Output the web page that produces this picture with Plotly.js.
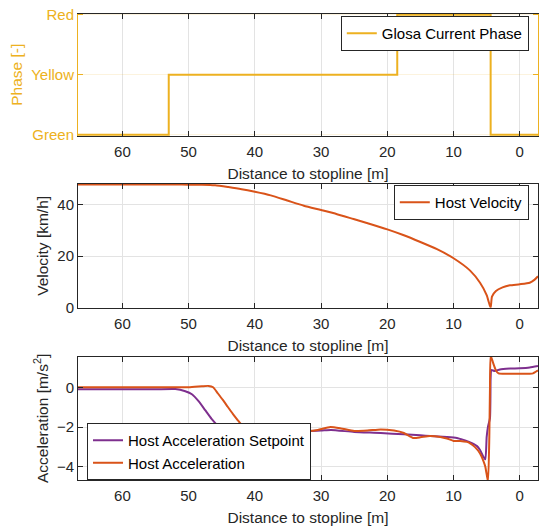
<!DOCTYPE html>
<html>
<head>
<meta charset="utf-8">
<script src="https://cdn.plot.ly/plotly-3.0.1.min.js"></script>
<style>html,body{margin:0;padding:0;background:#fff;}#chart{width:539px;height:532px;}</style>
</head>
<body>
<div id="chart"></div>
<script>
// ---- Data ----
const distTicks = [60, 50, 40, 30, 20, 10, 0];

const phaseDist = [66.7, 53.0, 18.5, 4.4, -2.75];
const phaseVal  = [0, 1, 2, 0, 0];
const phaseTickVals = [0, 1, 2];
const phaseTickText = ['Green', 'Yellow', 'Red'];

const velDist = [66.7, 60, 55, 52, 50, 48, 46, 44, 42, 40, 37.6, 35.1, 32.6, 30, 27.6, 25.1, 22.6, 20, 17.6, 15.1, 12.5, 10, 7.5, 6.0, 5.0, 4.4, 4.2, 3.6, 2.6, 1.5, 0, -1.5, -2.2, -2.75];
const velVal  = [47.8, 47.8, 47.8, 47.8, 47.75, 47.7, 47.5, 46.8, 46.0, 45.0, 43.6, 41.6, 39.6, 37.9, 36.3, 34.4, 32.5, 30.4, 28.2, 25.6, 22.7, 19.2, 14.4, 9.7, 4.9, 0.0, 4.3, 6.5, 7.9, 8.7, 9.1, 9.7, 10.8, 12.2];

const setDist = [66.7, 60, 55, 52, 50.5, 49.5, 48.5, 47.5, 46.5, 45.5, 44.5, 43, 40, 37.6, 35, 32, 30, 28.5, 25, 21, 17.5, 15, 13.5, 11, 9.5, 8.5, 7.5, 6.5, 6.0, 5.5, 5.2, 5.0, 4.8, 4.5, 4.4, 4.3, 3.8, 3.0, 1.5, 0, -1.5, -2.75];
const setVal  = [-0.10, -0.10, -0.10, -0.09, -0.2, -0.35, -0.7, -1.15, -1.6, -1.95, -2.1, -2.15, -2.17, -2.15, -2.15, -2.2, -2.18, -2.15, -2.25, -2.3, -2.37, -2.42, -2.45, -2.5, -2.55, -2.65, -2.77, -2.95, -3.16, -3.5, -3.63, -2.5, -1.98, -1.55, 0.5, 0.87, 0.82, 0.9, 0.94, 0.96, 1.0, 1.07];

const accDist = [66.7, 55, 50, 48, 47, 46.3, 45.6, 44.8, 44.1, 43.3, 42.6, 42, 41.4, 40.5, 39, 35, 32, 30.5, 28.6, 27, 25, 23, 21, 19, 17.5, 16.1, 15, 13.6, 12, 11, 10, 9, 8, 7.5, 6.8, 6.0, 5.5, 5.2, 4.8, 4.6, 4.5, 4.4, 4.0, 3.6, 3.2, 2.0, 0, -1.5, -2.0, -2.75];
const accVal  = [0.0, 0.0, 0.0, 0.05, 0.07, 0.0, -0.3, -0.65, -0.98, -1.35, -1.65, -1.9, -2.08, -2.18, -2.2, -2.18, -2.2, -2.15, -2.0, -2.07, -2.2, -2.18, -2.12, -2.18, -2.3, -2.55, -2.52, -2.45, -2.5, -2.58, -2.7, -2.7, -2.75, -2.82, -3.0, -3.33, -3.7, -4.0, -4.75, -2.5, 0.0, 1.6, 1.2, 0.85, 0.7, 0.68, 0.68, 0.68, 0.7, 0.85];

// ---- Styling ----
const FONT = 'Liberation Sans, Arial, Helvetica, sans-serif';
const INK = '#262626';
const GRID = '#e3e3e3';
const cPhase = '#EDB120', cVel = '#D95319', cSet = '#7E2F8E', cAcc = '#D95319';

const traces = [
  {x: phaseDist, y: phaseVal, type: 'scatter', mode: 'lines', line: {color: cPhase, width: 2, shape: 'hv'},
   name: 'Glosa Current Phase', xaxis: 'x', yaxis: 'y', legend: 'legend'},
  {x: velDist, y: velVal, type: 'scatter', mode: 'lines', line: {color: cVel, width: 2, shape: 'spline', smoothing: 0.6},
   name: 'Host Velocity', xaxis: 'x2', yaxis: 'y2', legend: 'legend2'},
  {x: setDist, y: setVal, type: 'scatter', mode: 'lines', line: {color: cSet, width: 2, shape: 'spline', smoothing: 0.5},
   name: 'Host Acceleration Setpoint', xaxis: 'x3', yaxis: 'y3', legend: 'legend3'},
  {x: accDist, y: accVal, type: 'scatter', mode: 'lines', line: {color: cAcc, width: 2, shape: 'spline', smoothing: 0.5},
   name: 'Host Acceleration', xaxis: 'x3', yaxis: 'y3', legend: 'legend3'}
];

function xax(anchor) {
  return {
    anchor: anchor, domain: [0, 1], range: [66.7, -2.75], autorange: false,
    tickvals: distTicks, ticks: 'inside', ticklen: 5, tickcolor: INK,
    showline: true, linecolor: INK, linewidth: 1, mirror: 'ticks',
    showgrid: true, gridcolor: GRID, zeroline: false,
    tickfont: {family: FONT, size: 15, color: INK}, ticklabelstandoff: 2,
    title: {text: 'Distance to stopline [m]', font: {family: FONT, size: 15.5, color: INK}, standoff: 9},
    automargin: false
  };
}
function yax(anchor, domain, extra) {
  return Object.assign({
    anchor: anchor, domain: domain, ticks: 'inside', ticklen: 5, tickcolor: INK,
    showline: true, linecolor: INK, linewidth: 1, mirror: 'ticks',
    showgrid: true, gridcolor: GRID, zeroline: false,
    tickfont: {family: FONT, size: 15, color: INK}, automargin: false
  }, extra);
}

const legendBase = {
  bgcolor: '#ffffff', bordercolor: INK, borderwidth: 1,
  font: {family: FONT, size: 15, color: '#000'}, itemwidth: 30, tracegroupgap: 0
};

const layout = {
  width: 539, height: 532,
  margin: {l: 78, r: 1, t: 0, b: 0},
  paper_bgcolor: '#fff', plot_bgcolor: '#fff',
  showlegend: true,
  xaxis: xax('y'),
  xaxis2: xax('y2'),
  xaxis3: xax('y3'),
  yaxis: yax('x', [0.7444, 0.9746], {
    range: [-0.02, 2.02], tickvals: phaseTickVals, ticktext: phaseTickText,
    linecolor: cPhase, tickcolor: cPhase, gridcolor: 'rgba(237,177,32,0.15)',
    tickfont: {family: FONT, size: 15, color: cPhase},
    title: {text: 'Phase [-]', font: {family: FONT, size: 15.5, color: cPhase}, standoff: 4}
  }),
  yaxis2: yax('x2', [0.4216, 0.6541], {
    range: [0, 48], tickvals: [0, 20, 40],
    title: {text: 'Velocity [km/h]', font: {family: FONT, size: 15.5, color: INK}, standoff: 4}
  }),
  yaxis3: yax('x3', [0.0977, 0.3295], {
    range: [-4.67, 1.54], tickvals: [-4, -2, 0],
    title: {text: 'Acceleration [m/s<sup>2</sup>]', font: {family: FONT, size: 15.5, color: INK}, standoff: 4}
  }),
  legend: Object.assign({}, legendBase, {x: 0.98, y: 0.937, xanchor: 'right', yanchor: 'middle'}),
  legend2: Object.assign({}, legendBase, {x: 0.98, y: 0.6194, xanchor: 'right', yanchor: 'middle'}),
  legend3: Object.assign({}, legendBase, {x: 0.0196, y: 0.1513, xanchor: 'left', yanchor: 'middle'})
};

Plotly.newPlot('chart', traces, layout, {staticPlot: true, displayModeBar: false});
</script>
</body>
</html>
